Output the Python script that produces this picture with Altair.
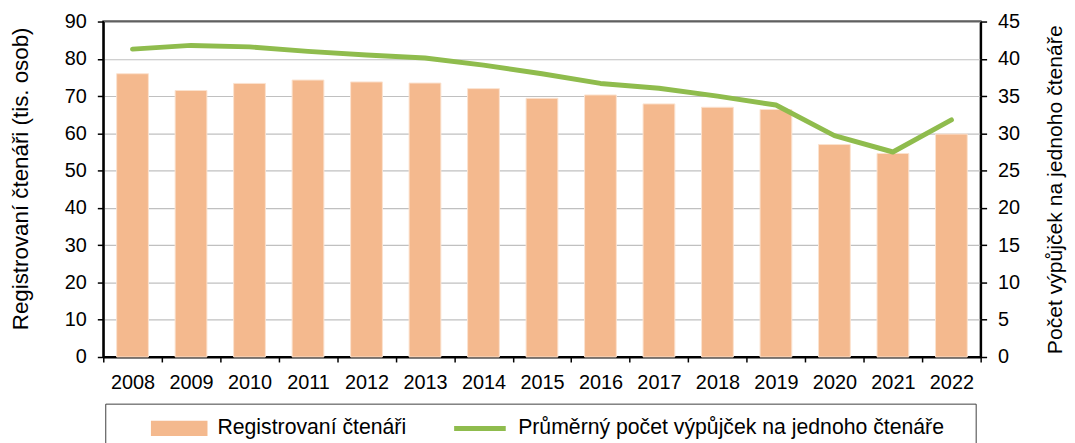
import altair as alt
import pandas as pd

years = ["2008", "2009", "2010", "2011", "2012", "2013", "2014", "2015",
         "2016", "2017", "2018", "2019", "2020", "2021", "2022"]
readers = [76.0, 71.5, 73.4, 74.3, 73.8, 73.5, 72.0, 69.4,
           70.3, 67.9, 67.0, 66.4, 57.0, 54.6, 59.8]
loans = [41.3, 41.8, 41.6, 41.0, 40.5, 40.1, 39.15, 38.0,
         36.7, 36.05, 35.0, 33.8, 29.7, 27.5, 31.8]
left_ticks = [0, 10, 20, 30, 40, 50, 60, 70, 80, 90]
right_ticks = [0, 5, 10, 15, 20, 25, 30, 35, 40, 45]

bar_name = "Registrovaní čtenáři"
line_name = "Průměrný počet výpůjček na jednoho čtenáře"
left_title = "Registrovaní čtenáři (tis. osob)"
right_title = "Počet výpůjček na jednoho čtenáře"

ORANGE = "#F4B98E"
GREEN = "#8FBC4D"
FONT = "Liberation Sans"

bars_df = pd.DataFrame({"year": years, "value": readers, "series": bar_name})
line_df = pd.DataFrame({"year": years, "value": loans, "series": line_name})

is_bar = f"(datum.value == '{bar_name}')"
# trailing padding inside the legend frame (non-breaking spaces kept by a zero-width char)
tail = "\u00a0" * 3 + "\u200b"
legend = alt.Legend(
    title=None,
    orient="none",
    legendX=2,
    legendY=385,
    direction="horizontal",
    strokeColor="#404040",
    fillColor="white",
    padding=13,
    symbolSize=2704,
    symbolType={"expr": f"{is_bar} ? 'M-1,-0.2L1,-0.2L1,0.2L-1,0.2Z' : 'stroke'"},
    symbolStrokeColor={"expr": f"{is_bar} ? 'transparent' : '{GREEN}'"},
    symbolStrokeWidth=5,
    symbolOpacity=1,
    symbolOffset=33,
    labelOffset=10,
    columnPadding=12,
    clipHeight=24,
    labelFont=FONT,
    labelFontSize=21.4,
    labelColor="black",
    labelLimit=1000,
    labelExpr=f"{is_bar} ? datum.label : datum.label + '{tail}'",
)

color = alt.Color(
    "series:N",
    scale=alt.Scale(domain=[bar_name, line_name], range=[ORANGE, GREEN]),
    legend=legend,
)

x = alt.X(
    "year:N",
    sort=years,
    scale=alt.Scale(paddingInner=0, paddingOuter=0),
    axis=alt.Axis(
        title=None, labelAngle=0, tickBand="extent", tickSize=5,
        labelPadding=11, labelFontSize=20, grid=False,
    ),
)

bars = alt.Chart(bars_df).mark_bar(width=32, stroke="#FBE2CF", strokeWidth=1).encode(
    x=x,
    y=alt.Y(
        "value:Q",
        scale=alt.Scale(domain=[0, 90], nice=False),
        axis=alt.Axis(
            values=left_ticks, title=left_title, grid=True, labelPadding=11,
            titleAngle=270, titleX=-83, titleY=158, titleAlign="center",
            titleBaseline="middle", titleFontSize=22.5,
        ),
    ),
    color=color,
)

line = alt.Chart(line_df).mark_line(strokeWidth=5, strokeCap="round", strokeJoin="round").encode(
    x=x,
    y=alt.Y(
        "value:Q",
        scale=alt.Scale(domain=[0, 45], nice=False),
        axis=alt.Axis(
            values=right_ticks, title=right_title, orient="right", grid=False,
            labelPadding=11, titleAngle=270, titleX=75, titleY=169,
            titleAlign="center", titleBaseline="middle", titleFontSize=21.3,
        ),
    ),
    color=color,
)

chart = (
    alt.layer(bars, line)
    .resolve_scale(y="independent")
    .properties(
        width=884,
        height=338,
        autosize=alt.AutoSizeParams(type="none"),
        padding={"left": 96, "top": 12, "right": 87, "bottom": 85},
    )
    .configure_view(stroke="black", strokeWidth=2)
    .configure_axis(
        labelFont=FONT, labelFontSize=20, labelColor="black",
        titleFont=FONT, titleFontWeight="normal", titleColor="black",
        domainColor="black", domainWidth=2,
        tickColor="black", tickWidth=1.5, tickSize=6,
        gridColor="#C0C0C0", gridWidth=1.2,
    )
)

chart.save("out.html", embed_options={"renderer": "svg", "actions": False})
